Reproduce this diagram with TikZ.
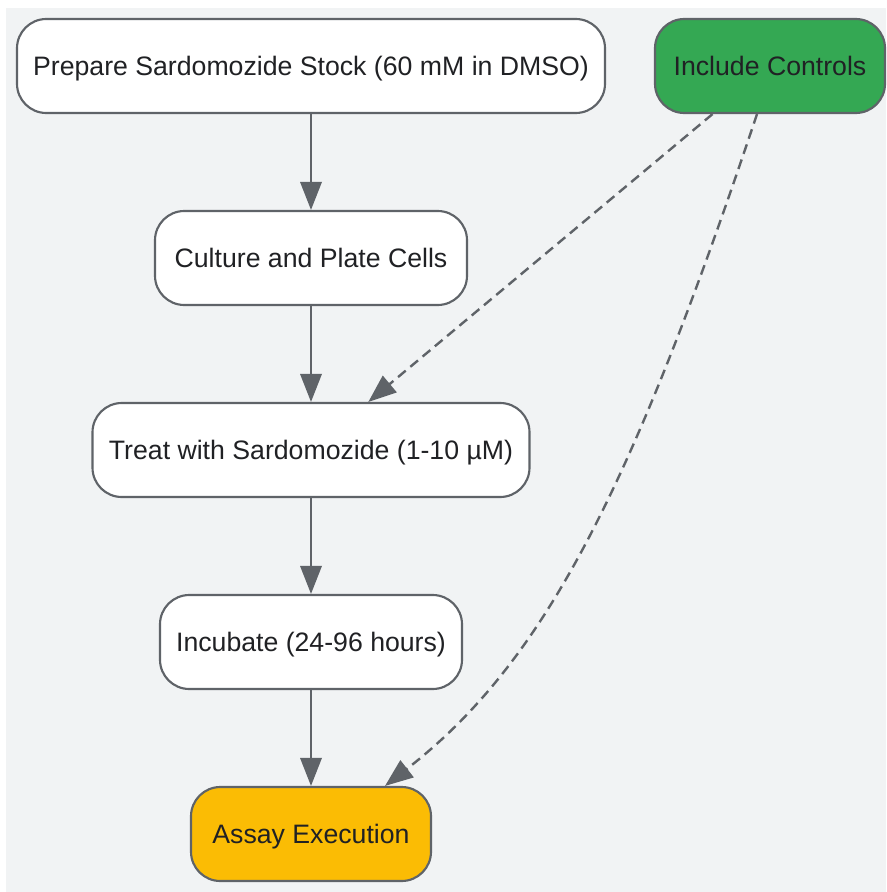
\documentclass[tikz,border=0pt]{standalone}
\usepackage{fontspec}
\setmainfont{Liberation Sans}
\usetikzlibrary{arrows.meta}
\definecolor{bggray}{HTML}{F1F3F4}
\definecolor{edgegray}{HTML}{5F6368}
\definecolor{textgray}{HTML}{202124}
\definecolor{ctrlgreen}{HTML}{34A853}
\definecolor{assayyellow}{HTML}{FBBC04}

\begin{document}
\begin{tikzpicture}[x=0.75pt, y=-0.75pt,
  box/.style={draw=edgegray, line width=1.6pt, fill=white, rounded corners=22pt,
    minimum height=70.5pt, inner sep=0pt, text height=14.6pt, text depth=0pt,
    text=textgray, font=\fontsize{20}{24}\selectfont},
  flow/.style={edgegray, line width=1.8pt, -{Triangle[length=21pt,width=16pt]}},
  ctrl/.style={flow, dash pattern=on 7.5pt off 4.5pt}]
\useasboundingbox (0,0) rectangle (886,892);
\fill[bggray] (6,8) rectangle (886,892);

% steps of the protocol
\node[box, minimum width=441pt] (stock) at (311,66) {Prepare Sardomozide Stock (60 mM in DMSO)};
\node[box, minimum width=172.5pt, fill=ctrlgreen] (controls) at (770,66) {Include Controls};
\node[box, minimum width=234pt] (culture) at (311,258) {Culture and Plate Cells};
\node[box, minimum width=327.75pt] (treat) at (311,450) {Treat with Sardomozide (1-10 µM)};
\node[box, minimum width=226.5pt] (incubate) at (311,642) {Incubate (24-96 hours)};
\node[box, minimum width=180pt, fill=assayyellow] (assay) at (311,834) {Assay Execution};

% main flow
\draw[flow] (stock) -- (culture);
\draw[flow] (culture) -- (treat);
\draw[flow] (treat) -- (incubate);
\draw[flow] (incubate) -- (assay);

% controls
\draw[ctrl] (controls) -- (treat);
\draw[ctrl] ([xshift=-9.75pt]controls.south) .. controls (630,494) and (543,663) .. ([xshift=55.5pt]assay.north);
\end{tikzpicture}
\end{document}
